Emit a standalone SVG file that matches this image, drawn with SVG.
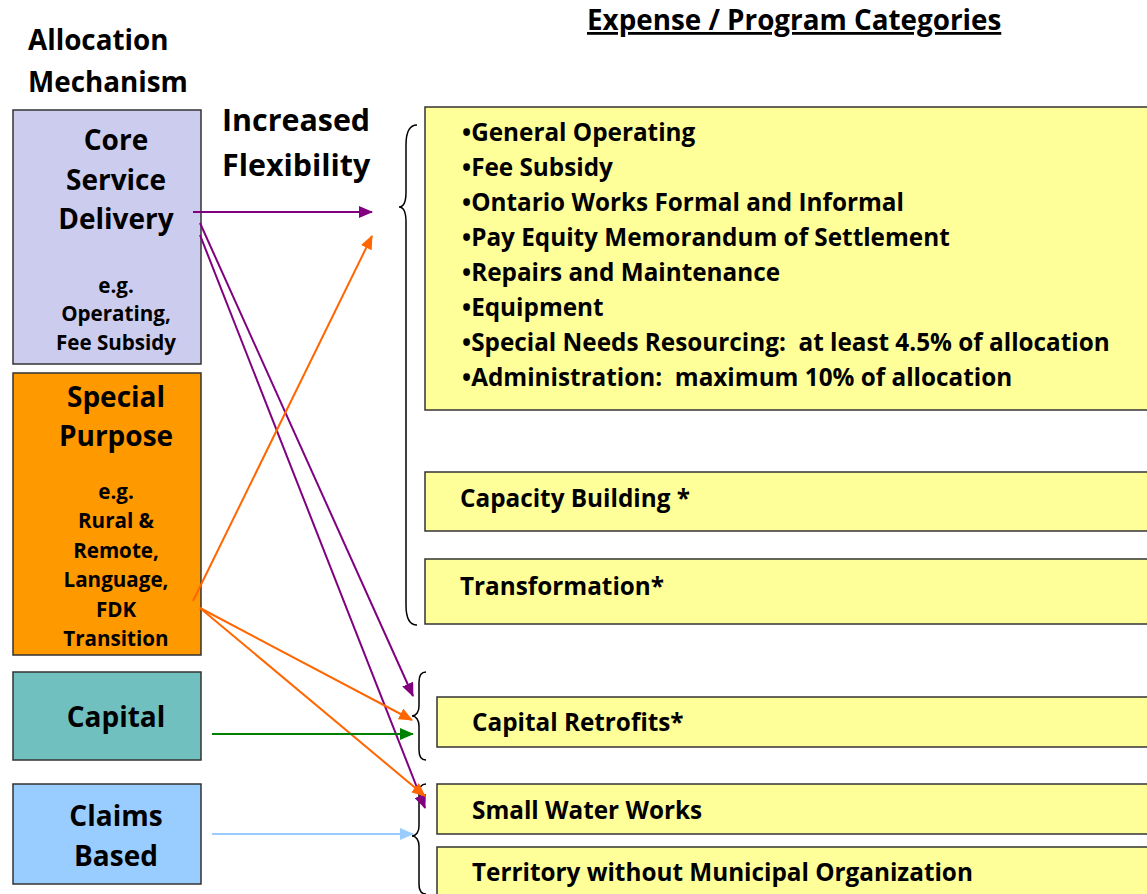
<svg xmlns="http://www.w3.org/2000/svg" width="1147" height="894" viewBox="0 0 1147 894">
<defs>
<style>
text{font-family:"Open Sans","Liberation Sans",sans-serif;font-weight:700;fill:#000}
.hd{font-size:27.8px}
.big{font-size:28px}
.sm{font-size:20.6px}
.li{font-size:24.3px}
.c{text-anchor:middle}
.box{stroke:#333;stroke-width:1.5}
.ybox{fill:#FFFF99;stroke:#333;stroke-width:1.5}
.brace{fill:none;stroke:#000;stroke-width:1.5}
.ln{fill:none;stroke-width:2}
</style>
<marker id="mP" markerWidth="14" markerHeight="12" refX="13" refY="6" orient="auto" markerUnits="userSpaceOnUse"><path d="M0,0 L14,6 L0,12 Z" fill="#800080"/></marker>
<marker id="mO" markerWidth="14" markerHeight="12" refX="13" refY="6" orient="auto" markerUnits="userSpaceOnUse"><path d="M0,0 L14,6 L0,12 Z" fill="#FF6600"/></marker>
<marker id="mG" markerWidth="14" markerHeight="12" refX="13" refY="6" orient="auto" markerUnits="userSpaceOnUse"><path d="M0,0 L14,6 L0,12 Z" fill="#008000"/></marker>
<marker id="mB" markerWidth="14" markerHeight="12" refX="13" refY="6" orient="auto" markerUnits="userSpaceOnUse"><path d="M0,0 L14,6 L0,12 Z" fill="#99CCFF"/></marker>
</defs>
<rect width="1147" height="894" fill="#fff"/>

<g id="headers">
<text class="hd" x="28" y="50">Allocation</text>
<text class="hd" x="28" y="92">Mechanism</text>
<text class="hd" x="587" y="30" text-decoration="underline">Expense / Program Categories</text>
<text x="222" y="131" style="font-size:30.4px">Increased</text>
<text x="222" y="176" style="font-size:30.4px">Flexibility</text>
</g>

<g id="core">
<rect class="box" x="13" y="110" width="188" height="254" fill="#CCCCEE"/>
<text class="big c" x="116" y="150">Core</text>
<text class="big c" x="116" y="190">Service</text>
<text class="big c" x="116" y="229">Delivery</text>
<text class="sm c" x="116" y="293">e.g.</text>
<text class="sm c" x="116" y="321">Operating,</text>
<text class="sm c" x="116" y="350">Fee Subsidy</text>
</g>

<g id="special">
<rect class="box" x="13" y="373" width="188" height="282" fill="#FF9900"/>
<text class="big c" x="116" y="407">Special</text>
<text class="big c" x="116" y="446">Purpose</text>
<text class="sm c" x="116" y="499">e.g.</text>
<text class="sm c" x="116" y="528">Rural &amp;</text>
<text class="sm c" x="116" y="558">Remote,</text>
<text class="sm c" x="116" y="587">Language,</text>
<text class="sm c" x="116" y="617">FDK</text>
<text class="sm c" x="116" y="646">Transition</text>
</g>

<g id="capital">
<rect class="box" x="13" y="672" width="188" height="88" fill="#70C0C0"/>
<text class="big c" x="116" y="727">Capital</text>
</g>

<g id="claims">
<rect class="box" x="13" y="784" width="188" height="100" fill="#99CCFF"/>
<text class="big c" x="116" y="826">Claims</text>
<text class="big c" x="116" y="866">Based</text>
</g>

<g id="operating-list">
<rect class="ybox" x="425" y="107" width="730" height="303"/>
<text class="li" x="462" y="141">•General Operating</text>
<text class="li" x="462" y="176">•Fee Subsidy</text>
<text class="li" x="462" y="211">•Ontario Works Formal and Informal</text>
<text class="li" x="462" y="246">•Pay Equity Memorandum of Settlement</text>
<text class="li" x="462" y="281">•Repairs and Maintenance</text>
<text class="li" x="462" y="316">•Equipment</text>
<text class="li" x="462" y="351" xml:space="preserve">•Special Needs Resourcing:  at least 4.5% of allocation</text>
<text class="li" x="462" y="386" xml:space="preserve">•Administration:  maximum 10% of allocation</text>
</g>

<g id="capacity">
<rect class="ybox" x="425" y="472" width="730" height="59"/>
<text class="li" x="460" y="507">Capacity Building *</text>
</g>

<g id="transformation">
<rect class="ybox" x="425" y="559" width="730" height="65"/>
<text class="li" x="460" y="595">Transformation*</text>
</g>

<g id="retrofits">
<rect class="ybox" x="437" y="697" width="718" height="50"/>
<text class="li" x="472" y="731">Capital Retrofits*</text>
</g>

<g id="water">
<rect class="ybox" x="437" y="784" width="718" height="50"/>
<text class="li" x="472" y="819">Small Water Works</text>
</g>

<g id="territory">
<rect class="ybox" x="437" y="847" width="718" height="60"/>
<text class="li" x="472" y="881">Territory without Municipal Organization</text>
</g>

<g id="braces">
<path class="brace" d="M417,125 C409,125 406,132 406,145 L406,192 C406,202 403,207 399,207 C403,207 406,212 406,222 L406,605 C406,618 409,625 417,625"/>
<path class="brace" d="M426,672 C421,672 419,676 419,682 L419,706 C419,712 416,716 412,716 C416,716 419,720 419,726 L419,750 C419,756 421,760 426,760"/>
<path class="brace" d="M426,784 C421,784 419,788 419,794 L419,826 C419,832 416,836 412,836 C416,836 419,840 419,846 L419,884 C419,890 421,894 426,894"/>
</g>

<g id="connectors">
<line class="ln" stroke="#800080" x1="193" y1="212" x2="372" y2="212" marker-end="url(#mP)"/>
<line class="ln" stroke="#800080" x1="200" y1="223" x2="413" y2="696" marker-end="url(#mP)"/>
<line class="ln" stroke="#800080" x1="200" y1="235" x2="425" y2="808" marker-end="url(#mP)"/>
<line class="ln" stroke="#FF6600" x1="193" y1="601" x2="372" y2="236" marker-end="url(#mO)"/>
<line class="ln" stroke="#FF6600" x1="200" y1="608" x2="412" y2="720" marker-end="url(#mO)"/>
<line class="ln" stroke="#FF6600" x1="200" y1="608" x2="425" y2="796" marker-end="url(#mO)"/>
<line class="ln" stroke="#008000" x1="212" y1="734" x2="413" y2="734" marker-end="url(#mG)"/>
<line class="ln" stroke="#99CCFF" x1="212" y1="834" x2="413" y2="834" marker-end="url(#mB)"/>
</g>
</svg>
